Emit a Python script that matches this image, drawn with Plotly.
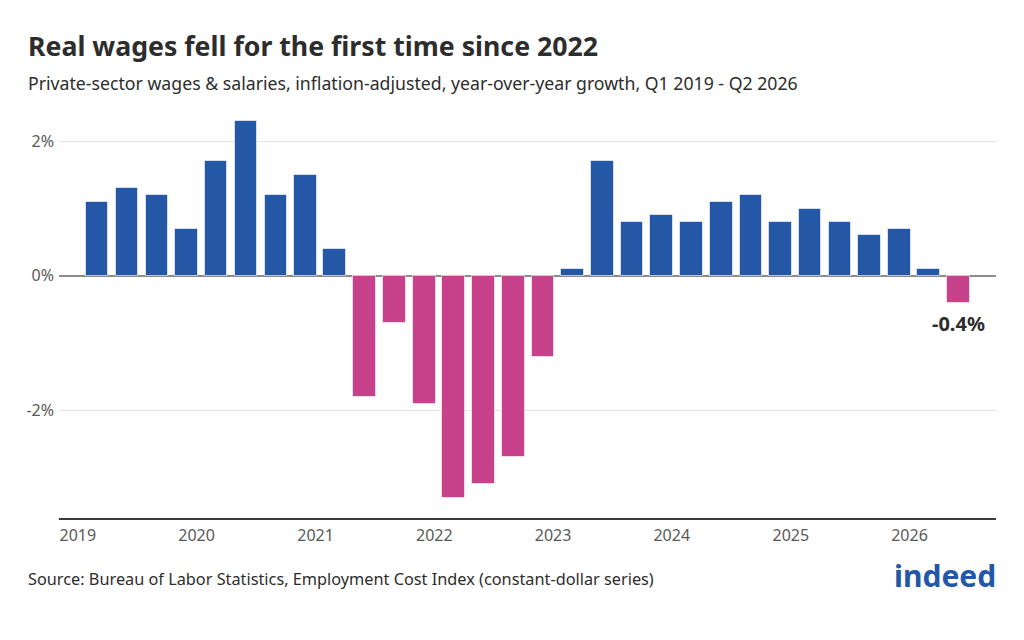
import plotly.graph_objects as go
import datetime as dt

quarters = ["Q1 2019","Q2 2019","Q3 2019","Q4 2019",
            "Q1 2020","Q2 2020","Q3 2020","Q4 2020",
            "Q1 2021","Q2 2021","Q3 2021","Q4 2021",
            "Q1 2022","Q2 2022","Q3 2022","Q4 2022",
            "Q1 2023","Q2 2023","Q3 2023","Q4 2023",
            "Q1 2024","Q2 2024","Q3 2024","Q4 2024",
            "Q1 2025","Q2 2025","Q3 2025","Q4 2025",
            "Q1 2026","Q2 2026"]
growth = [1.1, 1.3, 1.2, 0.7,
          1.7, 2.3, 1.2, 1.5,
          0.4, -1.8, -0.7, -1.9,
          -3.3, -3.1, -2.7, -1.2,
          0.1, 1.7, 0.8, 0.9,
          0.8, 1.1, 1.2, 0.8,
          1.0, 0.8, 0.6, 0.7,
          0.1, -0.4]
year_ticks = [2019, 2020, 2021, 2022, 2023, 2024, 2025, 2026]
y_ticks = [-2, 0, 2]
y_tick_labels = ["-2%", "0%", "2%"]

BLUE = "#2557a7"
PINK = "#c8428b"
TEXT = "#2d2d2d"
GREY = "#595959"
FONT = "Noto Sans"

def q_date(label):
    q, y = label.split()
    return dt.date(int(y), 3 * int(q[1]), 1)

dates = [q_date(q) for q in quarters]
colors = [BLUE if v >= 0 else PINK for v in growth]
bar_width_ms = 70 * 24 * 3600 * 1000

fig = go.Figure()
fig.add_trace(go.Bar(
    x=dates, y=growth, width=[bar_width_ms] * len(dates),
    marker=dict(color=colors, line=dict(color="rgba(255,255,255,0.6)", width=1)),
    hovertext=quarters, showlegend=False,
))

last_val = growth[-1]
fig.add_annotation(x=dates[-1], y=last_val, text=f"<b>{last_val:.1f}%</b>",
                   showarrow=False, yanchor="top", yshift=-5,
                   font=dict(family=FONT, size=20, color=TEXT))

L, R, T, B = 59, 28, 111, 122
W, H = 1024, 640
pw, ph = W - L - R, H - T - B

def px(xp):
    return (xp - L) / pw

def py(yp):
    return (H - B - yp) / ph

fig.add_annotation(xref="paper", yref="paper", x=px(26), y=py(45),
                   xanchor="left", yanchor="middle", showarrow=False,
                   text="<b>Real wages fell for the first time since 2022</b>",
                   font=dict(family=FONT, size=26.7, color=TEXT))
fig.add_annotation(xref="paper", yref="paper", x=px(26), y=py(83),
                   xanchor="left", yanchor="middle", showarrow=False,
                   text="Private-sector wages & salaries, inflation-adjusted, year-over-year growth, Q1 2019 - Q2 2026",
                   font=dict(family=FONT, size=17.7, color=TEXT))
fig.add_annotation(xref="paper", yref="paper", x=px(26), y=py(579),
                   xanchor="left", yanchor="middle", showarrow=False,
                   text="Source: Bureau of Labor Statistics, Employment Cost Index (constant-dollar series)",
                   font=dict(family=FONT, size=16.3, color=TEXT))
fig.add_annotation(xref="paper", yref="paper", x=px(998), y=py(575),
                   xanchor="right", yanchor="middle", showarrow=False,
                   text="<b>indeed</b>",
                   font=dict(family=FONT, size=30, color=BLUE))

fig.update_layout(
    width=W, height=H,
    margin=dict(l=L, r=R, t=T, b=B),
    paper_bgcolor="white", plot_bgcolor="white",
    bargap=0,
    font=dict(family=FONT, color=GREY),
    xaxis=dict(
        type="date",
        range=[dt.date(2018, 11, 4), dt.date(2026, 9, 24)],
        tickvals=[dt.date(y, 1, 1) for y in year_ticks],
        ticktext=[str(y) for y in year_ticks],
        tickfont=dict(family=FONT, size=16, color=GREY),
        showgrid=False, zeroline=False,
        showline=True, linecolor="#3a3a3a", linewidth=2,
        ticks="", ticklabelstandoff=2,
    ),
    yaxis=dict(
        range=[-3.6, 2.45],
        tickvals=y_ticks, ticktext=y_tick_labels,
        tickfont=dict(family=FONT, size=16, color=GREY),
        showgrid=True, gridcolor="#e3e3e3", gridwidth=1,
        zeroline=True, zerolinecolor="#8c8c8c", zerolinewidth=2,
        showline=False, ticks="", ticklabelstandoff=4,
    ),
)

fig.write_html("out.html")
